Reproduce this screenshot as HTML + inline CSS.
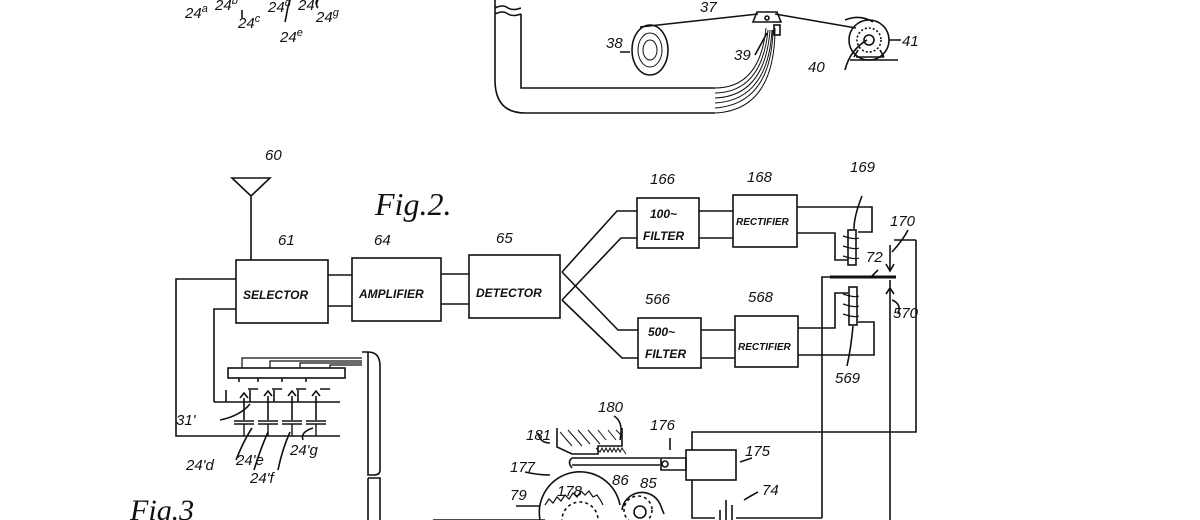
<!DOCTYPE html>
<html><head><meta charset="utf-8"><style>
html,body{margin:0;padding:0;background:#fff;}
svg{display:block}
text{font-family:"Liberation Sans",sans-serif;font-style:italic;fill:#111}
.l{font-size:15px}
.b{font-size:12px;font-weight:bold}
</style></head><body>
<svg width="1200" height="520" viewBox="0 0 1200 520" xmlns="http://www.w3.org/2000/svg" fill="none" stroke="#111" stroke-width="1.6">
<!-- Top figure -->
<g class="l" stroke="none" fill="#111">
<text x="185" y="18">24<tspan dy="-6" font-size="11">a</tspan></text>
<text x="215" y="10">24<tspan dy="-6" font-size="11">b</tspan></text>
<text x="238" y="28">24<tspan dy="-6" font-size="11">c</tspan></text>
<text x="268" y="12">24<tspan dy="-6" font-size="11">d</tspan></text>
<text x="280" y="42">24<tspan dy="-6" font-size="11">e</tspan></text>
<text x="298" y="10">24<tspan dy="-6" font-size="11">f</tspan></text>
<text x="316" y="22">24<tspan dy="-6" font-size="11">g</tspan></text>
<text x="700" y="12">37</text><text x="606" y="48">38</text><text x="734" y="60">39</text>
<text x="808" y="72">40</text><text x="902" y="46">41</text>
</g>
<path d="M242 10 v8 M290 0 c-3 8 -3 14 -5 22 M318 0 q-3 5 0 8"/>
<path d="M495 0 V80 Q495 113 525 113 H715 M521 14 V88 H715 M495 8 q8 -4 13 0 q5 3 13 0 M495 14 q8 -4 13 0 q5 3 13 0"/>
<path d="M715 88 Q760 88 766 28 M715 113 Q775 110 775 28 M715 93 Q762 92 768 30 M715 98 Q765 96 770 30 M715 103 Q768 100 772 30 M715 108 Q771 104 773 30" stroke-width="1"/>
<ellipse cx="650" cy="50" rx="18" ry="25"/>
<path d="M650 50 m-12 0 a12 17 0 1 0 24 0 a12 17 0 1 0 -24 0 M650 50 m-7 0 a7 10 0 1 0 14 0 a7 10 0 1 0 -14 0" stroke-width="1"/>
<path d="M640 27 L758 14 M775 14 L856 28 M620 52 h10"/>
<path d="M757 12 h20 l4 10 h-28 z"/>
<circle cx="767" cy="18" r="2"/>
<rect x="774" y="25" width="6" height="10"/>
<circle cx="869" cy="40" r="20"/><circle cx="869" cy="40" r="12" stroke-dasharray="2 2"/><circle cx="869" cy="40" r="5"/>
<path d="M856 57 h28 M850 60 h48 M858 50 l-4 7 M880 50 l4 7 M845 20 q15 -6 28 2 M889 40 h12 M845 70 q5 -20 22 -30 M755 55 l12 -22"/>
<!-- Fig 2 -->
<text x="375" y="215" stroke="none" fill="#111" style="font-family:'Liberation Serif',serif;font-size:32px">Fig.2.</text>
<path d="M232 178 h38 l-19 18 z M251 196 V260"/>
<g class="l" stroke="none" fill="#111">
<text x="265" y="160">60</text><text x="278" y="245">61</text><text x="374" y="245">64</text><text x="496" y="243">65</text>
<text x="650" y="184">166</text><text x="747" y="182">168</text><text x="850" y="172">169</text><text x="890" y="226">170</text>
<text x="866" y="262">72</text><text x="645" y="304">566</text><text x="748" y="302">568</text><text x="835" y="383">569</text><text x="893" y="318">570</text>
</g>
<rect x="236" y="260" width="92" height="63"/><rect x="352" y="258" width="89" height="63"/><rect x="469" y="255" width="91" height="63"/>
<g class="b" stroke="none" fill="#111">
<text x="243" y="299">SELECTOR</text><text x="359" y="298">AMPLIFIER</text><text x="476" y="297">DETECTOR</text>
<text x="650" y="218">100~</text><text x="643" y="240">FILTER</text><text x="736" y="225" font-size="10">RECTIFIER</text>
<text x="648" y="336">500~</text><text x="645" y="358">FILTER</text><text x="738" y="350" font-size="10">RECTIFIER</text>
</g>
<path d="M328 275 h24 M328 306 h24 M441 274 h28 M441 304 h28"/>
<path d="M236 279 H176 V436 H340 M236 309 H214 V402"/>
<rect x="637" y="198" width="62" height="50"/><rect x="638" y="318" width="63" height="50"/>
<rect x="733" y="195" width="64" height="52"/><rect x="735" y="316" width="63" height="51"/>
<path d="M562 272 L617 211 H637 M562 300 L621 238 H637 M562 272 L618 330 H638 M562 300 L622 358 H638"/>
<path d="M699 211 h34 M699 238 h34 M701 330 h34 M701 358 h34"/>
<path d="M797 207 H872 V232 H858 M797 233 H835 V260 H848 M798 328 H835 V293 H848 M798 355 H874 V322 H858"/>
<rect x="848" y="230" width="8" height="35"/><rect x="849" y="287" width="8" height="38"/>
<path d="M843 236 q12 4 16 2 M843 246 q12 4 16 2 M843 256 q12 4 16 2 M843 294 q12 4 16 2 M843 304 q12 4 16 2 M843 314 q12 4 16 2" stroke-width="1.2"/>
<path d="M862 196 q-8 20 -8 33 M853 326 q-2 22 -6 40"/>
<path d="M830 277 H896" stroke-width="3"/>
<path d="M830 277 H822 V518 M916 240 H894 M916 240 V432 H692 V450 M890 280 V520 M890 245 V271 M886 264 l4 7 l4 -7 M886 294 l4 -6 l4 6 M878 270 l-6 6 M908 230 q-5 10 -16 22 M892 300 q10 4 6 14"/>
<!-- switch bank -->
<rect x="228" y="368" width="117" height="10"/>
<path d="M242 368 v-10 h120 M270 368 v-7 h92 M300 368 v-5 h62 M330 368 v-3 h32" stroke-width="1.2"/>
<path d="M362 352 h6 q12 0 12 14 V470 q0 5 -6 5 h-6 V352 M368 478 H380 V520 M368 478 V520"/>
<path d="M239 378 v4 M258 378 v4 M282 378 v4 M306 378 v4 M248 389 h10 M272 389 h10 M296 389 h10 M320 389 h10 M214 402 H340 M226 390 v12 M250 390 v12 M274 390 v12 M298 390 v12"/>
<path d="M244 420 V398 M268 420 V396 M292 420 V396 M316 420 V396 M240 398 l4 -5 l4 5 M264 396 l4 -5 l4 5 M288 396 l4 -5 l4 5 M312 396 l4 -5 l4 5"/>
<path d="M234 421 h20 M258 421 h20 M282 421 h20 M306 421 h20 M234 424 h20 M258 424 h20 M282 424 h20 M306 424 h20 M244 424 v12 M268 424 v12 M292 424 v12 M316 424 v12" stroke-width="1.4"/>
<g class="l" stroke="none" fill="#111">
<text x="176" y="425">31'</text><text x="186" y="470">24'd</text><text x="236" y="465">24'e</text><text x="250" y="483">24'f</text><text x="290" y="455">24'g</text>
<text x="526" y="440">181</text><text x="598" y="412">180</text><text x="650" y="430">176</text><text x="745" y="456">175</text>
<text x="510" y="472">177</text><text x="510" y="500">79</text><text x="557" y="496">178</text><text x="612" y="485">86</text><text x="640" y="488">85</text><text x="762" y="495">74</text>
</g>
<path d="M220 420 q20 -4 30 -16 M236 460 q8 -20 16 -32 M254 470 q6 -20 14 -38 M278 470 q4 -20 12 -38 M303 440 q-3 -8 10 -12"/>
<text x="130" y="520" stroke="none" fill="#111" style="font-family:'Liberation Serif',serif;font-size:30px">Fig.3</text>
<!-- bottom mechanism -->
<path d="M557 428 V447 L572 454 H598 V446 H622 V428"/>
<path d="M560 432 l12 14 M568 430 l14 16 M578 430 l12 14 M588 430 l12 14 M598 430 l8 10 M608 430 l8 10 M616 430 l6 6" stroke-width="1"/>
<path d="M596 448 l4 4 l2 -4 l2 4 l2 -4 l2 4 l2 -4 l2 4 l2 -4 l2 4 l2 -4 l2 4 l2 -4 l4 6" stroke-width="1"/>
<path d="M572 458 H660 M572 465 H660 M572 458 q-5 4 0 10 M661 458 h25 v12 h-25 z"/>
<circle cx="665" cy="464" r="3"/>
<rect x="686" y="450" width="50" height="30"/>
<path d="M692 480 V518 H715 M720 510 v10 M726 500 v20 M732 505 v15 M736 518 H822 M740 462 l12 -4 M744 500 q10 -6 14 -8 M670 450 v-12 M550 443 q-10 0 -12 -10 M550 475 q-12 0 -25 -3 M620 440 q4 -18 -6 -24"/>
<path d="M540 520 A40 40 0 0 1 620 505" stroke-dasharray="0" />
<path d="M545 505 l4 -6 l4 4 l4 -6 l4 4 l4 -6 l4 4 l4 -6 l4 4 l4 -6 l4 4 l4 -4 l4 6 l4 -2 l4 6 l2 4" stroke-width="1.2"/>
<circle cx="580" cy="520" r="18" stroke-dasharray="3 3"/>
<circle cx="638" cy="510" r="14" stroke-dasharray="3 3"/>
<path d="M622 510 a20 20 0 0 1 38 -6 l4 10" />
<circle cx="640" cy="512" r="6"/>
<path d="M433 520 H545 M516 506 h24" />
</svg>
</body></html>
